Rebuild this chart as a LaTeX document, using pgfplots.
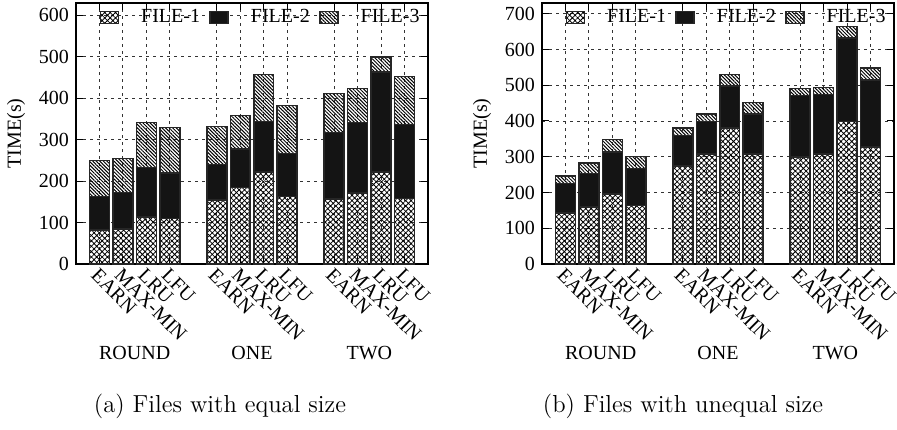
\documentclass[border=0pt]{standalone}
\usepackage{fontspec}
\newfontfamily\timesfont{Liberation Serif}
\usepackage{pgfplots}
\usepackage{pgfplotstable}
\pgfplotsset{compat=1.18}
\usetikzlibrary{patterns.meta}

\pgfplotstableread{
x f1 f2 f3
1 82 81 87
2 84 89 82
3 114 119 108
4 110 110 110
6 155 85 92
7 185 93 80
8 222 122 113
9 163 104 115
11 157 160 94
12 171 170 83
13 222 241 37
14 158 179 116
}\dataA

\pgfplotstableread{
x f1 f2 f3
1 143 82 21
2 160 93 29
3 196 117 35
4 164 103 33
6 274 86 20
7 307 91 22
8 381 117 32
9 307 113 32
11 299 172 20
12 307 167 20
13 398 234 33
14 327 187 34
}\dataB

\pgfplotsset{
  mystyle/.style={
    scale only axis, width=176pt, height=130.5pt,
    ybar stacked, bar width=0.85,
    xmin=0, xmax=15, ymin=0,
    xtick={1,2,3,4,6,7,8,9,11,12,13,14},
    xticklabels={EARN,MAX-MIN,LRU,LFU,EARN,MAX-MIN,LRU,LFU,EARN,MAX-MIN,LRU,LFU},
    xticklabel style={rotate=-45, anchor=north west, inner sep=1pt, xshift=0pt},
    /pgf/number format/assume math mode=true,
    tick label style={font=\timesfont},
    label style={font=\timesfont},
    ylabel={TIME(s)},
    grid=major,
    grid style={dash pattern=on 1.5pt off 2pt, line width=0.45pt, black!80},
    axis line style={line width=0.8pt},
    major tick length=3.5pt,
    tick style={line width=0.5pt, black},
    clip=false,
    legend columns=3,
    legend style={draw=none, fill=none, inner sep=0pt, at={(rel axis cs:0.066,0.945)}, anchor=west,
      font=\timesfont,
      /tikz/every odd column/.append style={column sep=9pt},
      /tikz/every even column/.append style={column sep=2.7pt}},
    every axis plot post/.append style={legend image code/.code={\draw[##1] (0pt,-3pt) rectangle (9pt,3pt);}},
  },
  f1style/.style={draw=black!85, line width=0.75pt, pattern={Hatch[angle=45,distance=1.9pt,line width=0.4pt]}},
  f2style/.style={draw=black!85, line width=0.75pt, fill=black!92},
  f3style/.style={draw=black!85, line width=0.75pt, pattern={Lines[angle=-45,distance=1.25pt,line width=0.5pt]}},
}

\begin{document}
\begin{tikzpicture}[font=\timesfont]
\useasboundingbox (0,0) rectangle (448.5pt,214.5pt);
\begin{axis}[mystyle, at={(38pt,82.5pt)}, anchor=south west, ymax=630, ytick={0,100,...,600}]
\addplot[f1style] table[x=x,y=f1]{\dataA};
\addplot[f2style] table[x=x,y=f2]{\dataA};
\addplot[f3style] table[x=x,y=f3]{\dataA};
\legend{FILE-1,FILE-2,FILE-3}
\node[font=\timesfont] at (axis cs:2.5,0) [yshift=-44.5pt] {ROUND};
\node[font=\timesfont] at (axis cs:7.5,0) [yshift=-44.5pt] {ONE};
\node[font=\timesfont] at (axis cs:12.5,0) [yshift=-44.5pt] {TWO};
\end{axis}
\begin{axis}[mystyle, at={(271pt,82.5pt)}, anchor=south west, ymax=730, ytick={0,100,...,700}]
\addplot[f1style] table[x=x,y=f1]{\dataB};
\addplot[f2style] table[x=x,y=f2]{\dataB};
\addplot[f3style] table[x=x,y=f3]{\dataB};
\legend{FILE-1,FILE-2,FILE-3}
\node[font=\timesfont] at (axis cs:2.5,0) [yshift=-44.5pt] {ROUND};
\node[font=\timesfont] at (axis cs:7.5,0) [yshift=-44.5pt] {ONE};
\node[font=\timesfont] at (axis cs:12.5,0) [yshift=-44.5pt] {TWO};
\end{axis}
\node[font=\normalfont\fontsize{12.3}{14}\selectfont, anchor=base] at (110pt,8.5pt) {(a) Files with equal size};
\node[font=\normalfont\fontsize{12.3}{14}\selectfont, anchor=base] at (341.5pt,8.5pt) {(b) Files with unequal size};
\end{tikzpicture}
\end{document}
